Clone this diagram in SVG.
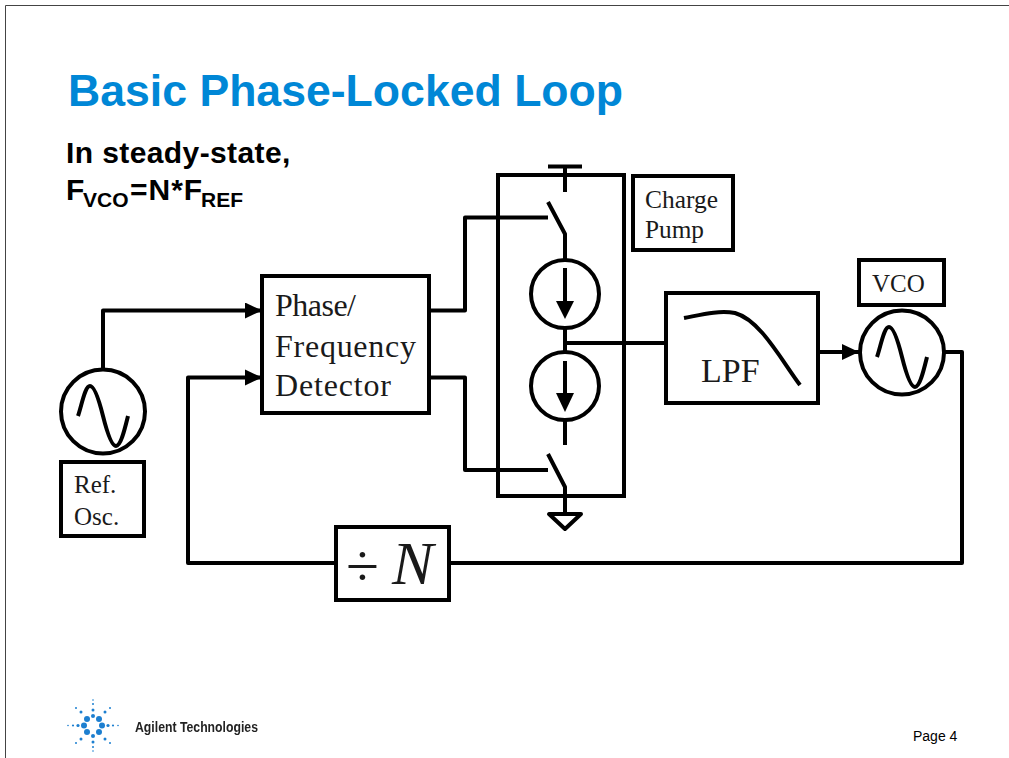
<svg xmlns="http://www.w3.org/2000/svg" width="1009" height="758" viewBox="0 0 1009 758">
<style>
.b{fill:none;stroke:#000;stroke-width:4}
.w{fill:#fff;stroke:#000;stroke-width:4}
.t{font-family:"Liberation Serif",serif;fill:#1a1a1a}
.h{font-family:"Liberation Sans",Arial,sans-serif;font-weight:700;fill:#000}
.c{fill:none;stroke:#000;stroke-width:4;stroke-linejoin:round}
.f{fill:#000}
</style>
<defs>
<filter id="soft" x="-10%" y="-10%" width="120%" height="120%"><feGaussianBlur stdDeviation="0.6"/></filter>
<marker id="a" markerUnits="userSpaceOnUse" markerWidth="18" markerHeight="16" refX="17" refY="8" orient="auto"><path d="M0 0L17 8L0 16Z" fill="#000"/></marker>
<path id="sine" d="M-25 4C-21-8-18-26-13-26C-8-26-3-8 0 4C3 16 8 34 13 34C18 34 22 16 25 4" fill="none" stroke="#000" stroke-width="4"/>
</defs>
<rect width="1009" height="758" fill="#fff"/>
<path d="M5.500 758V5.500H1009" fill="none" stroke="#444" stroke-width="1"/>
<g id="title"><text class="h" x="68" y="105.500" font-size="44.600" style="fill:#0087d6">Basic Phase-Locked Loop</text></g>
<g id="note">
<text class="h" x="66" y="162.500" font-size="30" letter-spacing="0.400">In steady-state,</text>
<text class="h" y="199.500" font-size="30"><tspan x="66">F</tspan><tspan x="83" font-size="21" dy="7">VCO</tspan><tspan x="130" dy="-7" letter-spacing="1">=N*F</tspan><tspan x="201" font-size="21" dy="7">REF</tspan></text>
</g>
<g id="connectors">
<path class="c" d="M103 369V310.500H262" marker-end="url(#a)"/>
<path class="c" d="M262 377.500H188V563H336" marker-start="none"/>
<path d="M245 369.500L262 377.500L245 385.500Z" class="f"/>
<path class="c" d="M429 310.500H465V217.500H548"/>
<path class="c" d="M429 377.500H465V470H548"/>
<path class="c" d="M548 166.500H582M565 166V192M548 202L565 234V260"/>
<path class="c" d="M565 328V352M565 343H666"/>
<path class="c" d="M565 420V445M548 454L565 487V514"/>
<path class="c" d="M818 352H859" marker-end="url(#a)"/>
<path class="c" d="M945 352H962V563H449"/>
</g>
<g id="charge-pump">
<rect class="b" x="498" y="175" width="126" height="321"/>
<circle class="b" cx="565" cy="294" r="34"/>
<path class="c" d="M565 268V305"/><path d="M556 301H574L565 319Z" class="f"/>
<circle class="b" cx="565" cy="386" r="34"/>
<path class="c" d="M565 361V398"/><path d="M556 393H574L565 412Z" class="f"/>
<path class="c" d="M549 514H581L565 529Z"/>
</g>
<g id="charge-pump-label"><rect class="b" x="633" y="176" width="100" height="74"/><text class="t" x="645" y="208" font-size="25" textLength="73" lengthAdjust="spacingAndGlyphs">Charge</text><text class="t" x="645" y="238" font-size="25" textLength="59" lengthAdjust="spacingAndGlyphs">Pump</text></g>
<g id="pfd"><rect class="b" x="262" y="276" width="167" height="137"/><text class="t" x="275" y="316" font-size="32" textLength="81">Phase/</text><text class="t" x="275" y="357" font-size="32" textLength="141">Frequency</text><text class="t" x="275" y="396" font-size="32" textLength="116">Detector</text></g>
<g id="lpf"><rect class="b" x="666" y="293" width="152" height="110"/><path d="M684 318C700 315 718 310 735 313C760 320 780 358 800 385" class="c"/><text class="t" x="701" y="382" font-size="34">LPF</text></g>
<g id="vco"><circle class="b" cx="902" cy="352.500" r="42"/><use href="#sine" x="902" y="353"/><rect class="b" x="859" y="260" width="85" height="45"/><text class="t" x="872" y="292" font-size="25">VCO</text></g>
<g id="ref-osc"><circle class="b" cx="103" cy="411.500" r="42"/><use href="#sine" x="103" y="412"/><rect class="b" x="61" y="462" width="83" height="74"/><text class="t" x="74" y="493" font-size="25">Ref.</text><text class="t" x="74" y="525" font-size="25">Osc.</text></g>
<g id="divider"><rect class="w" x="336" y="527" width="113" height="73"/><text class="t" x="346" y="586" font-size="60">÷</text><text class="t" x="392" y="584" font-size="62" font-style="italic">N</text></g>
<g id="logo" fill="#1d7fd0" filter="url(#soft)">
<circle cx="87" cy="719" r="3"/><circle cx="99" cy="719" r="3"/><circle cx="102" cy="725.500" r="3"/><circle cx="99" cy="732" r="3"/><circle cx="87" cy="732" r="3"/><circle cx="84" cy="725.500" r="3"/><circle cx="93" cy="716" r="2"/><circle cx="93" cy="736" r="2"/>
<circle cx="78" cy="725.500" r="1.600"/><circle cx="73" cy="725.500" r="1.100"/><circle cx="68" cy="725.500" r="0.800"/><circle cx="108" cy="725.500" r="1.600"/><circle cx="113" cy="725.500" r="1.100"/><circle cx="118" cy="725.500" r="0.800"/>
<circle cx="93" cy="710" r="1.500"/><circle cx="93" cy="704" r="1"/><circle cx="93" cy="700" r="0.800"/><circle cx="93" cy="742" r="1.500"/><circle cx="93" cy="747" r="1"/><circle cx="93" cy="751" r="0.800"/>
<circle cx="81" cy="712" r="1.500"/><circle cx="76" cy="708" r="1"/><circle cx="105" cy="712" r="1.500"/><circle cx="110" cy="708" r="1"/><circle cx="81" cy="739" r="1.500"/><circle cx="76" cy="743" r="1"/><circle cx="105" cy="739" r="1.500"/><circle cx="110" cy="743" r="1"/>
</g>
<g id="footer"><text class="h" x="135" y="732" font-size="15.500" textLength="123" lengthAdjust="spacingAndGlyphs" filter="url(#soft)" style="fill:#222">Agilent Technologies</text><text x="913" y="741" font-family="Liberation Sans,Arial,sans-serif" font-size="14" fill="#000">Page 4</text></g>
</svg>
